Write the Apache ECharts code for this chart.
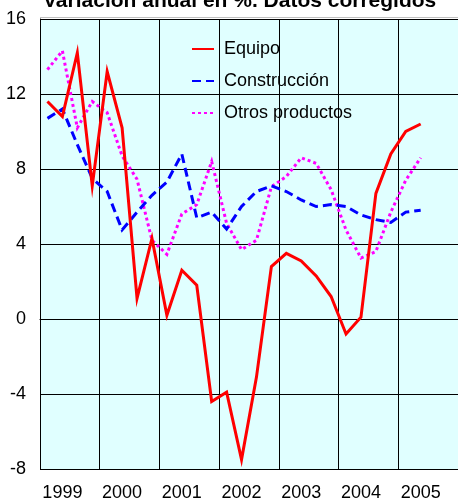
<!DOCTYPE html>
<html>
<head>
<meta charset="utf-8">
<script src="https://cdn.jsdelivr.net/npm/echarts@6/dist/echarts.min.js"></script>
<style>
  html, body { margin: 0; padding: 0; background: #fff; }
  #chart { width: 458px; height: 502px; }
</style>
</head>
<body>
<div id="chart"></div>
<script>
// años y trimestres del eje X
const years = ['1999', '2000', '2001', '2002', '2003', '2004', '2005'];
const quarters = ['I', 'II', 'III', 'IV'];
const categories = years.flatMap(y => quarters.map(q => y + ' ' + q));

// valores trimestrales (variación anual en %)
const equipo = [11.6, 10.8, 14.2, 7.1, 13.2, 10.2, 1.1, 4.3, 0.2, 2.6, 1.8, -4.4, -3.9,
  -7.5, -3.1, 2.8, 3.5, 3.1, 2.3, 1.2, -0.8, 0.1, 6.7, 8.8, 10.0, 10.4];
const construccion = [10.7, 11.2, 9.3, 7.5, 6.8, 4.75, 5.7, 6.6, 7.3, 8.8, 5.4, 5.7, 4.8,
  6.0, 6.8, 7.1, 6.8, 6.35, 6.0, 6.1, 6.0, 5.55, 5.3, 5.15, 5.7, 5.8];
const otros = [13.3, 14.3, 10.2, 11.6, 11.0, 8.7, 7.45, 4.2, 3.45, 5.6, 6.1, 8.4, 5.1,
  3.7, 4.2, 7.05, 7.6, 8.6, 8.3, 6.9, 4.75, 3.25, 3.6, 5.7, 7.4, 8.6];

// eje Y
const yTicks = [-8, -4, 0, 4, 8, 12, 16];

const font = 'Liberation Sans, Arial, sans-serif';
const myChart = echarts.init(document.getElementById('chart'));

const option = {
  animation: false,
  backgroundColor: '#ffffff',
  title: {
    text: 'Variación anual en %. Datos corregidos',
    left: 38,
    top: -14,
    textStyle: {
      fontFamily: font,
      fontSize: 21,
      fontWeight: 'bold',
      color: '#000'
    }
  },
  graphic: [{
    type: 'line',
    shape: { x1: 40, y1: 17.5, x2: 458, y2: 17.5 },
    style: { stroke: '#c0c0c0', lineWidth: 1 },
    z: 1
  }],
  legend: {
    orient: 'vertical',
    left: 186,
    top: 35,
    itemWidth: 22,
    itemHeight: 14,
    itemGap: 14,
    itemStyle: { opacity: 0 },
    textStyle: {
      fontFamily: font,
      fontSize: 18,
      color: '#000',
      padding: [0, 0, 0, 5]
    },
    data: ['Equipo', 'Construcción', 'Otros productos']
  },
  grid: {
    show: true,
    left: 40,
    top: 19,
    width: 420,
    height: 450,
    backgroundColor: '#e0ffff',
    borderWidth: 0,
    containLabel: false
  },
  xAxis: {
    type: 'category',
    data: categories,
    boundaryGap: true,
    axisLine: { lineStyle: { color: '#000', width: 1 } },
    axisTick: { show: false },
    splitLine: {
      show: true,
      interval: (i) => i % 4 === 0,
      lineStyle: { color: '#000', width: 1 }
    },
    axisLabel: {
      interval: (i) => i % 4 === 1,
      formatter: (v) => v.split(' ')[0],
      fontFamily: font,
      fontSize: 18,
      color: '#000',
      margin: 15
    }
  },
  yAxis: {
    type: 'value',
    min: yTicks[0],
    max: yTicks[yTicks.length - 1],
    interval: 4,
    axisLine: { show: true, lineStyle: { color: '#000', width: 1 } },
    axisTick: { show: false },
    splitLine: { lineStyle: { color: '#000', width: 1 } },
    axisLabel: {
      fontFamily: font,
      fontSize: 18,
      color: '#000',
      margin: 14
    }
  },
  series: [{
    name: 'Equipo',
    type: 'line',
    data: equipo,
    symbol: 'none',
    z: 4,
    lineStyle: { color: '#ff0000', width: 3, join: 'miter' },
    itemStyle: { color: '#ff0000' }
  }, {
    name: 'Construcción',
    type: 'line',
    data: construccion,
    symbol: 'none',
    z: 3,
    lineStyle: { color: '#0000ff', width: 3, type: [9, 5], join: 'miter' },
    itemStyle: { color: '#0000ff' }
  }, {
    name: 'Otros productos',
    type: 'line',
    data: otros,
    symbol: 'none',
    z: 2,
    lineStyle: { color: '#ff00ff', width: 3, type: [3, 3], join: 'miter' },
    itemStyle: { color: '#ff00ff' }
  }]
};

myChart.setOption(option);
</script>
</body>
</html>
